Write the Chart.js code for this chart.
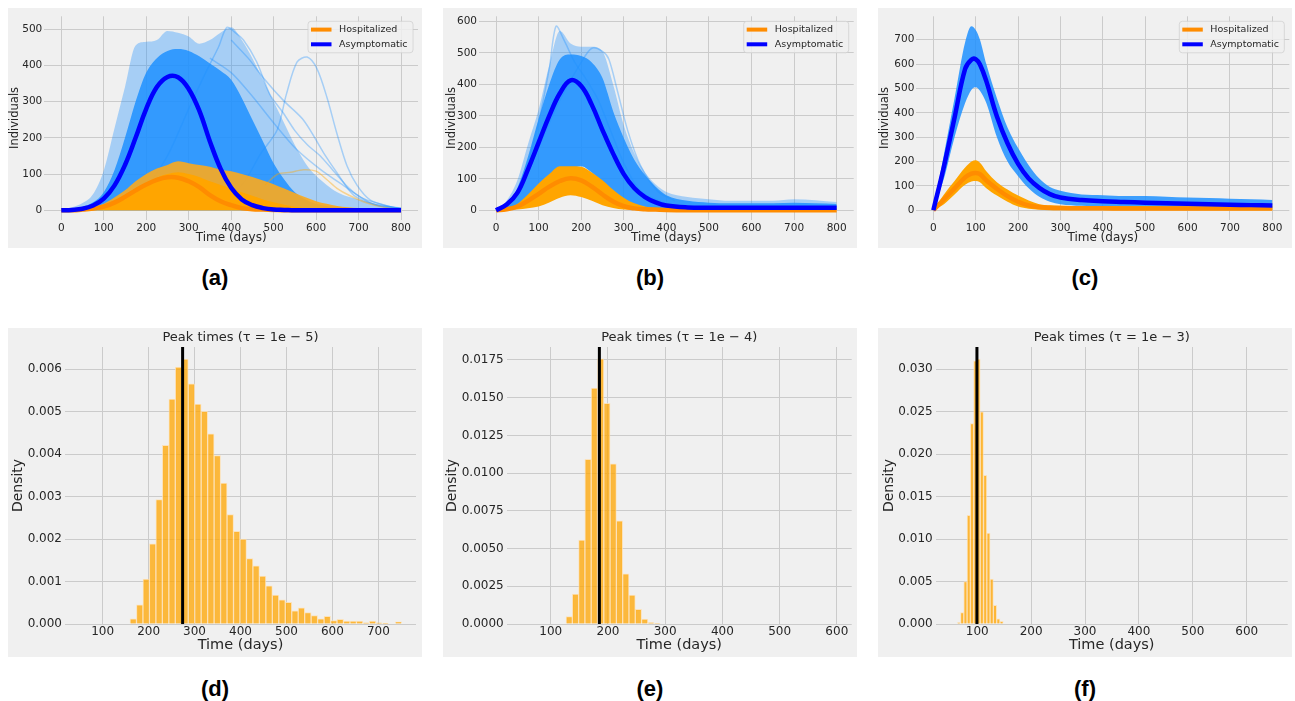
<!DOCTYPE html>
<html>
<head>
<meta charset="utf-8">
<script src="https://cdn.jsdelivr.net/npm/chart.js@4.4.1/dist/chart.umd.min.js"></script>
<style>
  html, body { margin: 0; padding: 0; background: #fff; }
  body { width: 1295px; height: 701px; position: relative; overflow: hidden; }
  canvas { position: absolute; background: #f0f0f0; }
  .tag { position: absolute; width: 100px; text-align: center; line-height: 26px;
         font: bold 22px 'Liberation Sans', Arial, sans-serif; color: #000; }
</style>
</head>
<body>
<canvas id="chartA" width="414" height="240" style="left:8px;top:8px"></canvas>
<canvas id="chartB" width="414" height="240" style="left:443px;top:8px"></canvas>
<canvas id="chartC" width="414" height="240" style="left:878px;top:8px"></canvas>
<canvas id="chartD" width="414" height="329" style="left:8px;top:328px"></canvas>
<canvas id="chartE" width="414" height="329" style="left:443px;top:328px"></canvas>
<canvas id="chartF" width="414" height="329" style="left:878px;top:328px"></canvas>
<div class="tag" style="left:165px;top:265px">(a)</div>
<div class="tag" style="left:600px;top:265px">(b)</div>
<div class="tag" style="left:1035px;top:265px">(c)</div>
<div class="tag" style="left:165px;top:676px">(d)</div>
<div class="tag" style="left:600px;top:676px">(e)</div>
<div class="tag" style="left:1035px;top:676px">(f)</div>
<script>
// osa casu pro horni grafy
const dayTicks = [0, 100, 200, 300, 400, 500, 600, 700, 800];

// (a) tau = 1e-5
const daysA = [0, 25, 50, 75, 100, 125, 150, 175, 200, 225, 250, 275, 300, 325, 350, 375, 400,
               425, 450, 475, 500, 525, 550, 575, 600, 625, 650, 675, 700, 725, 750, 775, 800];
const asymMeanA = [0, 1, 4, 13, 32, 68, 125, 200, 280, 340, 368, 367, 335, 275, 190, 115, 62,
                   30, 14, 6, 2, 1, 0, 0, 0, 0, 0, 0, 0, 0, 0, 0, 0];
const hospMeanA = [0, 0, 2, 5, 10, 21, 37, 55, 71, 84, 91, 90, 80, 64, 42, 25, 14,
                   6, 3, 2, 1, 0, 0, 0, 0, 0, 0, 0, 0, 0, 0, 0, 0];
const asymOuterA = [0, 8, 20, 45, 110, 225, 340, 455, 465, 470, 495, 490, 480, 460, 470, 490, 505,
                    470, 420, 360, 300, 240, 180, 130, 95, 70, 50, 38, 30, 22, 16, 12, 8];
const asymCoreA = [0, 4, 10, 22, 50, 110, 200, 300, 380, 420, 440, 445, 440, 425, 405, 385, 360,
                   310, 250, 190, 130, 85, 50, 30, 18, 12, 8, 6, 5, 4, 3, 2, 2];
const hospOuterA = [0, 1, 3, 8, 18, 35, 55, 80, 100, 115, 125, 135, 130, 125, 120, 112, 108,
                    100, 92, 82, 72, 60, 48, 36, 25, 18, 12, 8, 6, 4, 3, 2, 1];
const hospCoreA = [0, 0, 1, 4, 10, 20, 35, 55, 75, 90, 100, 105, 100, 92, 80, 70, 60,
                   50, 40, 30, 22, 15, 10, 6, 4, 2, 1, 0, 0, 0, 0, 0, 0];
const yTicksA = [0, 100, 200, 300, 400, 500];
// jednotlive vybocujici trajektorie
const traceA1Days = [300, 350, 390, 430, 470, 508, 530, 555, 579, 602, 626, 649, 673, 697, 728, 775, 800];
const traceA1 = [3, 14, 32, 77, 157, 221, 320, 409, 423, 391, 310, 212, 122, 68, 28, 10, 4];
const traceA2Days = [200, 250, 300, 340, 370, 390, 410, 429, 460, 491, 522, 550, 580, 610, 640, 670, 700, 740, 800];
const traceA2 = [60, 150, 280, 380, 450, 505, 490, 470, 410, 320, 270, 220, 180, 150, 110, 70, 40, 15, 5];
const traceA3Days = [350, 400, 446, 508, 555, 610, 665, 712, 775, 800];
const traceA3 = [420, 380, 320, 230, 167, 113, 68, 32, 10, 5];
const traceA4Days = [400, 440, 477, 524, 571, 618, 649, 689, 744, 800];
const traceA4 = [470, 420, 364, 302, 248, 158, 104, 41, 14, 3];
const traceA5Days = [480, 510, 540, 570, 600, 625, 650, 680, 720, 760, 800];
const traceA5 = [70, 100, 105, 112, 108, 85, 60, 40, 20, 8, 3];

// (b) tau = 1e-4
const daysB = [0, 25, 50, 75, 100, 125, 150, 175, 200, 225, 250, 275, 300, 325, 350, 375, 400,
               450, 500, 550, 600, 650, 700, 750, 800];
const asymMeanB = [0, 18, 55, 130, 215, 300, 372, 413, 395, 335, 255, 180, 115, 70, 42, 25, 15,
                   9, 8, 8, 8, 8, 8, 8, 8];
const hospMeanB = [0, 3, 12, 30, 52, 75, 93, 102, 95, 75, 50, 28, 13, 6, 3, 2, 1,
                   0, 0, 0, 0, 0, 0, 0, 0];
const asymOuterB = [0, 30, 95, 210, 320, 460, 570, 530, 520, 520, 505, 400, 270, 180, 120, 82, 58,
                    42, 35, 30, 30, 30, 35, 32, 26];
const asymCoreB = [0, 20, 70, 170, 290, 400, 480, 495, 490, 470, 420, 315, 230, 160, 112, 75, 48,
                   30, 24, 22, 22, 22, 24, 22, 20];
const asymLowB = [0, 2, 10, 25, 45, 70, 100, 130, 140, 120, 90, 60, 35, 18, 10, 5, 3,
                  2, 1, 1, 1, 1, 1, 1, 1];
const hospHighB = [0, 5, 20, 50, 85, 115, 140, 140, 138, 120, 95, 65, 40, 22, 12, 7, 5,
                   3, 2, 2, 2, 2, 2, 2, 2];
const hospLowB = [0, 0, 2, 6, 12, 25, 40, 48, 42, 30, 16, 7, 2, 1, 0, 0, 0,
                  0, 0, 0, 0, 0, 0, 0, 0];
const yTicksB = [0, 100, 200, 300, 400, 500, 600];
const traceB1Days = [0, 25, 50, 75, 100, 125, 141, 160, 185, 210, 240, 270, 300, 340, 400];
const traceB1 = [0, 20, 60, 150, 280, 450, 585, 540, 470, 420, 350, 250, 150, 60, 20];
const traceB2Days = [100, 150, 200, 225, 250, 265, 285, 310, 340, 380, 420];
const traceB2 = [200, 350, 470, 515, 505, 480, 380, 250, 140, 60, 30];

// (c) tau = 1e-3
const daysC = [0, 25, 50, 75, 90, 100, 110, 125, 150, 175, 200, 225, 250, 275, 300, 350, 400,
               450, 500, 550, 600, 650, 700, 750, 800];
const asymMeanC = [0, 180, 380, 580, 618, 620, 598, 530, 385, 275, 190, 130, 92, 66, 52, 42, 37,
                   34, 31, 29, 27, 25, 23, 21, 19];
const hospMeanC = [0, 45, 90, 135, 150, 153, 148, 122, 88, 58, 35, 20, 13, 10, 9, 8, 8,
                   7, 7, 7, 7, 7, 7, 7, 7];
const asymHighC = [0, 230, 460, 690, 755, 740, 700, 600, 460, 340, 255, 185, 130, 95, 80, 65, 62,
                   58, 58, 55, 52, 50, 47, 45, 42];
const asymLowC = [0, 130, 300, 440, 495, 505, 490, 440, 300, 200, 140, 90, 55, 35, 25, 18, 15,
                  13, 12, 11, 10, 9, 8, 8, 8];
const hospHighC = [0, 65, 120, 175, 200, 205, 195, 160, 115, 85, 60, 40, 25, 20, 18, 17, 17,
                   16, 16, 15, 15, 15, 14, 14, 14];
const hospLowC = [0, 25, 65, 105, 118, 120, 115, 90, 60, 35, 15, 6, 2, 0, 0, 0, 0,
                  0, 0, 0, 0, 0, 0, 0, 0];
const yTicksC = [0, 100, 200, 300, 400, 500, 600, 700];

// histogramy casu vrcholu (hustota)
const binStartD = 159.5, binWidthD = 14.08;
const densityD = [0.00012, 0.00045, 0.00106, 0.00189, 0.00293, 0.00421, 0.0053, 0.00605, 0.00624,
                  0.00566, 0.00518, 0.00501, 0.00448, 0.00397, 0.00332, 0.00258, 0.00218, 0.002,
                  0.00154, 0.00137, 0.00113, 0.0009, 0.00068, 0.00057, 0.00051, 0.00031, 0.00038,
                  0.00027, 0.0002, 0.00012, 0.00018, 0.00008, 0.00011, 0.00007, 0.00007, 0.00007,
                  0.00003, 0.00007, 0.00003, 0.00002, 0, 0.00005];
const meanPeakD = 274;
const xTicksD = [100, 200, 300, 400, 500, 600, 700];
const yTicksD = [0, 0.001, 0.002, 0.003, 0.004, 0.005, 0.006];

const binStartE = 126.7, binWidthE = 11.0;
const densityE = [0.00049, 0.00199, 0.00557, 0.01092, 0.01563, 0.01757, 0.01463, 0.01061, 0.00683,
                  0.00332, 0.00192, 0.00097, 0.00033, 0.00009, 0.00003];
const meanPeakE = 185;
const xTicksE = [100, 200, 300, 400, 500, 600];
const yTicksE = [0, 0.0025, 0.005, 0.0075, 0.01, 0.0125, 0.015, 0.0175];

const binStartF = 62.9, binWidthF = 6.1;
const densityF = [0.00016, 0.00134, 0.005, 0.0128, 0.0236, 0.031, 0.0312, 0.025, 0.0175,
                  0.0107, 0.0053, 0.0022, 0.0006, 0.0003];
const meanPeakF = 99.5;
const xTicksF = [100, 200, 300, 400, 500, 600];
const yTicksF = [0, 0.005, 0.01, 0.015, 0.02, 0.025, 0.03];

Chart.defaults.font.family = "'DejaVu Sans', sans-serif";
Chart.defaults.color = '#262626';

const BLUE_MEAN = '#0000ff', ORANGE_MEAN = '#ff8c00';
const gridColor = '#cbcbcb';

function pts(days, vals) {
    return days.map((d, i) => ({ x: d, y: vals[i] }));
}

// pas mezi dolni a horni obalkou (nebo od nuly)
function band(days, low, high, color, order) {
    const sets = [];
    const base = { borderWidth: 0, borderColor: 'rgba(0,0,0,0)', pointRadius: 0,
                   cubicInterpolationMode: 'monotone', order: order };
    if (low) sets.push(Object.assign({}, base, { data: pts(days, low), fill: false }));
    sets.push(Object.assign({}, base, { data: pts(days, high), fill: low ? '-1' : 'origin',
                                        backgroundColor: color }));
    return sets;
}

function trace(days, vals, color, order) {
    return { data: pts(days, vals), borderColor: color, borderWidth: 1.5, pointRadius: 0,
             fill: false, tension: 0.3, order: order };
}

function meanLine(label, days, vals, color, order) {
    return { label: label, inLegend: true, data: pts(days, vals), borderColor: color,
             borderWidth: 4.5, pointRadius: 0, fill: false, tension: 0.4, order: order };
}

const cornerLegend = {
    id: 'cornerLegend',
    afterDatasetsDraw(chart) {
        const items = chart.data.datasets.filter(d => d.inLegend)
            .sort((a, b) => b.order - a.order);
        if (!items.length) return;
        const area = chart.chartArea;
        const ctx = chart.ctx;
        const w = 105, h = 31.5;
        const left = area.right - 5 - w, top = area.top + 5;
        ctx.save();
        ctx.fillStyle = 'rgba(240,240,240,0.85)';
        ctx.strokeStyle = 'rgba(205,205,205,0.7)';
        ctx.lineWidth = 1;
        ctx.beginPath();
        ctx.roundRect(left, top, w, h, 3);
        ctx.fill();
        ctx.stroke();
        ctx.font = "9.5px 'DejaVu Sans'";
        ctx.textBaseline = 'middle';
        items.forEach((d, i) => {
            const y = top + 8.3 + i * 14.7;
            ctx.strokeStyle = d.borderColor;
            ctx.lineWidth = 4;
            ctx.beginPath();
            ctx.moveTo(left + 3, y);
            ctx.lineTo(left + 23.5, y);
            ctx.stroke();
            ctx.fillStyle = '#262626';
            ctx.fillText(d.label, left + 31, y);
        });
        ctx.restore();
    }
};

function curveChart(id, cfg) {
    new Chart(document.getElementById(id), {
        type: 'line',
        data: { datasets: cfg.datasets },
        options: {
            responsive: false,
            animation: false,
            devicePixelRatio: 1,
            layout: { padding: { left: 0, right: cfg.padRight, top: 3.5, bottom: 0 } },
            plugins: { legend: { display: false }, tooltip: { enabled: false } },
            scales: {
                x: {
                    type: 'linear', min: -40, max: 840,
                    afterBuildTicks: s => { s.ticks = dayTicks.map(v => ({ value: v })); },
                    afterFit: s => { s.height = 28.5; },
                    grid: { color: gridColor, drawTicks: false },
                    border: { display: false },
                    ticks: { padding: 2, autoSkip: false, maxRotation: 0, font: { size: 10.5 } },
                    title: { display: true, text: 'Time (days)', font: { size: 12 },
                             padding: { top: 0, bottom: 3.1 } }
                },
                y: {
                    type: 'linear', min: cfg.yMin, max: cfg.yMax,
                    afterBuildTicks: s => { s.ticks = cfg.yTicks.map(v => ({ value: v })); },
                    afterFit: s => { s.width = cfg.yWidth; },
                    grid: { color: gridColor, drawTicks: false },
                    border: { display: false },
                    ticks: { padding: 2, autoSkip: false, font: { size: 10.5 } },
                    title: { display: true, text: 'Individuals', font: { size: 11.5 },
                             padding: { top: cfg.yTitlePad, bottom: 0 } }
                }
            }
        },
        plugins: [cornerLegend]
    });
}

function histChart(id, cfg) {
    const bars = cfg.density.map((v, i) => ({ x: cfg.binStart + (i + 0.5) * cfg.binWidth, y: v }));
    new Chart(document.getElementById(id), {
        type: 'bar',
        data: {
            datasets: [
                { type: 'line', data: [{ x: cfg.mean, y: 0 }, { x: cfg.mean, y: cfg.yMax }],
                  borderColor: '#000', borderWidth: 3, pointRadius: 0, fill: false, order: 0 },
                { data: bars, backgroundColor: 'rgba(255,165,0,0.75)',
                  borderColor: 'rgba(255,222,170,0.75)', borderWidth: 1,
                  barPercentage: 1, categoryPercentage: 1, order: 1 }
            ]
        },
        options: {
            responsive: false,
            animation: false,
            devicePixelRatio: 1,
            layout: { padding: { left: 0, right: cfg.padRight, top: 0, bottom: 0 } },
            plugins: {
                legend: { display: false },
                tooltip: { enabled: false },
                title: { display: true, text: cfg.title, fullSize: false, color: '#262626',
                         font: { size: 13, weight: 'normal' }, padding: { top: 1.5, bottom: 1.9 } }
            },
            scales: {
                x: {
                    type: 'linear', min: cfg.xMin, max: cfg.xMax, offset: false,
                    afterBuildTicks: s => { s.ticks = cfg.xTicks.map(v => ({ value: v })); },
                    afterFit: s => { s.height = 33; },
                    grid: { color: gridColor, drawTicks: false, offset: false },
                    border: { display: false },
                    ticks: { padding: 1, autoSkip: false, maxRotation: 0, font: { size: 12 } },
                    title: { display: true, text: 'Time (days)', font: { size: 14.5 },
                             padding: { top: 0, bottom: 3.3 } }
                },
                y: {
                    type: 'linear', min: 0, max: cfg.yMax,
                    afterBuildTicks: s => { s.ticks = cfg.yTicks.map(v => ({ value: v })); },
                    afterFit: s => { s.width = cfg.yWidth; },
                    grid: { color: gridColor, drawTicks: false },
                    border: { display: false },
                    ticks: { padding: 3, autoSkip: false, font: { size: 12 },
                             callback: v => v.toFixed(cfg.decimals) },
                    title: { display: true, text: 'Density', font: { size: 14 },
                             padding: { top: cfg.yTitlePad, bottom: 0 } }
                }
            }
        }
    });
}

const blueOuter = 'rgba(30,144,255,0.35)';
const blueCore = 'rgba(30,144,255,0.85)';
const blueTrace = 'rgba(30,144,255,0.35)';
const orangeOuter = 'rgba(252,170,30,0.9)';
const orangeCore = 'rgba(255,165,0,1)';
const orangeTrace = 'rgba(255,165,0,0.4)';

curveChart('chartA', {
    yMin: -25.5, yMax: 535.5, yTicks: yTicksA, yWidth: 36.3, padRight: 4, yTitlePad: 0.1,
    datasets: [
        ...band(daysA, null, asymOuterA, blueOuter, 9),
        trace(traceA1Days, traceA1, blueTrace, 8),
        trace(traceA2Days, traceA2, blueTrace, 8),
        trace(traceA3Days, traceA3, blueTrace, 8),
        trace(traceA4Days, traceA4, blueTrace, 8),
        ...band(daysA, null, asymCoreA, blueCore, 7),
        ...band(daysA, null, hospOuterA, orangeOuter, 6),
        trace(traceA5Days, traceA5, orangeTrace, 5),
        ...band(daysA, null, hospCoreA, orangeCore, 4),
        meanLine('Hospitalized', daysA, hospMeanA, ORANGE_MEAN, 2),
        meanLine('Asymptomatic', daysA, asymMeanA, BLUE_MEAN, 1)
    ]
});

curveChart('chartB', {
    yMin: -29.4, yMax: 616.5, yTicks: yTicksB, yWidth: 36, padRight: 3.3, yTitlePad: 1.8,
    datasets: [
        ...band(daysB, asymLowB, asymOuterB, blueOuter, 9),
        trace(traceB1Days, traceB1, blueTrace, 8),
        trace(traceB2Days, traceB2, blueTrace, 8),
        ...band(daysB, asymLowB, asymCoreB, blueCore, 7),
        ...band(daysB, hospLowB, hospHighB, orangeCore, 4),
        meanLine('Hospitalized', daysB, hospMeanB, ORANGE_MEAN, 2),
        meanLine('Asymptomatic', daysB, asymMeanB, BLUE_MEAN, 1)
    ]
});

curveChart('chartC', {
    yMin: -38, yMax: 796, yTicks: yTicksC, yWidth: 38.4, padRight: 2.7, yTitlePad: 0.1,
    datasets: [
        ...band(daysC, asymLowC, asymHighC, blueCore, 7),
        ...band(daysC, hospLowC, hospHighC, orangeCore, 4),
        meanLine('Hospitalized', daysC, hospMeanC, ORANGE_MEAN, 2),
        meanLine('Asymptomatic', daysC, asymMeanC, BLUE_MEAN, 1)
    ]
});

histChart('chartD', {
    title: 'Peak times (τ = 1e − 5)', density: densityD, binStart: binStartD, binWidth: binWidthD,
    mean: meanPeakD, xMin: 18, xMax: 782, yMax: 0.006525, xTicks: xTicksD, yTicks: yTicksD,
    decimals: 3, yWidth: 57, padRight: 6, yTitlePad: 1.9
});

histChart('chartE', {
    title: 'Peak times (τ = 1e − 4)', density: densityE, binStart: binStartE, binWidth: binWidthE,
    mean: meanPeakE, xMin: 23, xMax: 626, yMax: 0.01836, xTicks: xTicksE, yTicks: yTicksE,
    decimals: 4, yWidth: 63.7, padRight: 5.3, yTitlePad: 1.3
});

histChart('chartF', {
    title: 'Peak times (τ = 1e − 3)', density: densityF, binStart: binStartF, binWidth: binWidthF,
    mean: meanPeakF, xMin: 23, xMax: 676, yMax: 0.03263, xTicks: xTicksF, yTicks: yTicksF,
    decimals: 3, yWidth: 57.7, padRight: 4.3, yTitlePad: 2.6
});
</script>
</body>
</html>
